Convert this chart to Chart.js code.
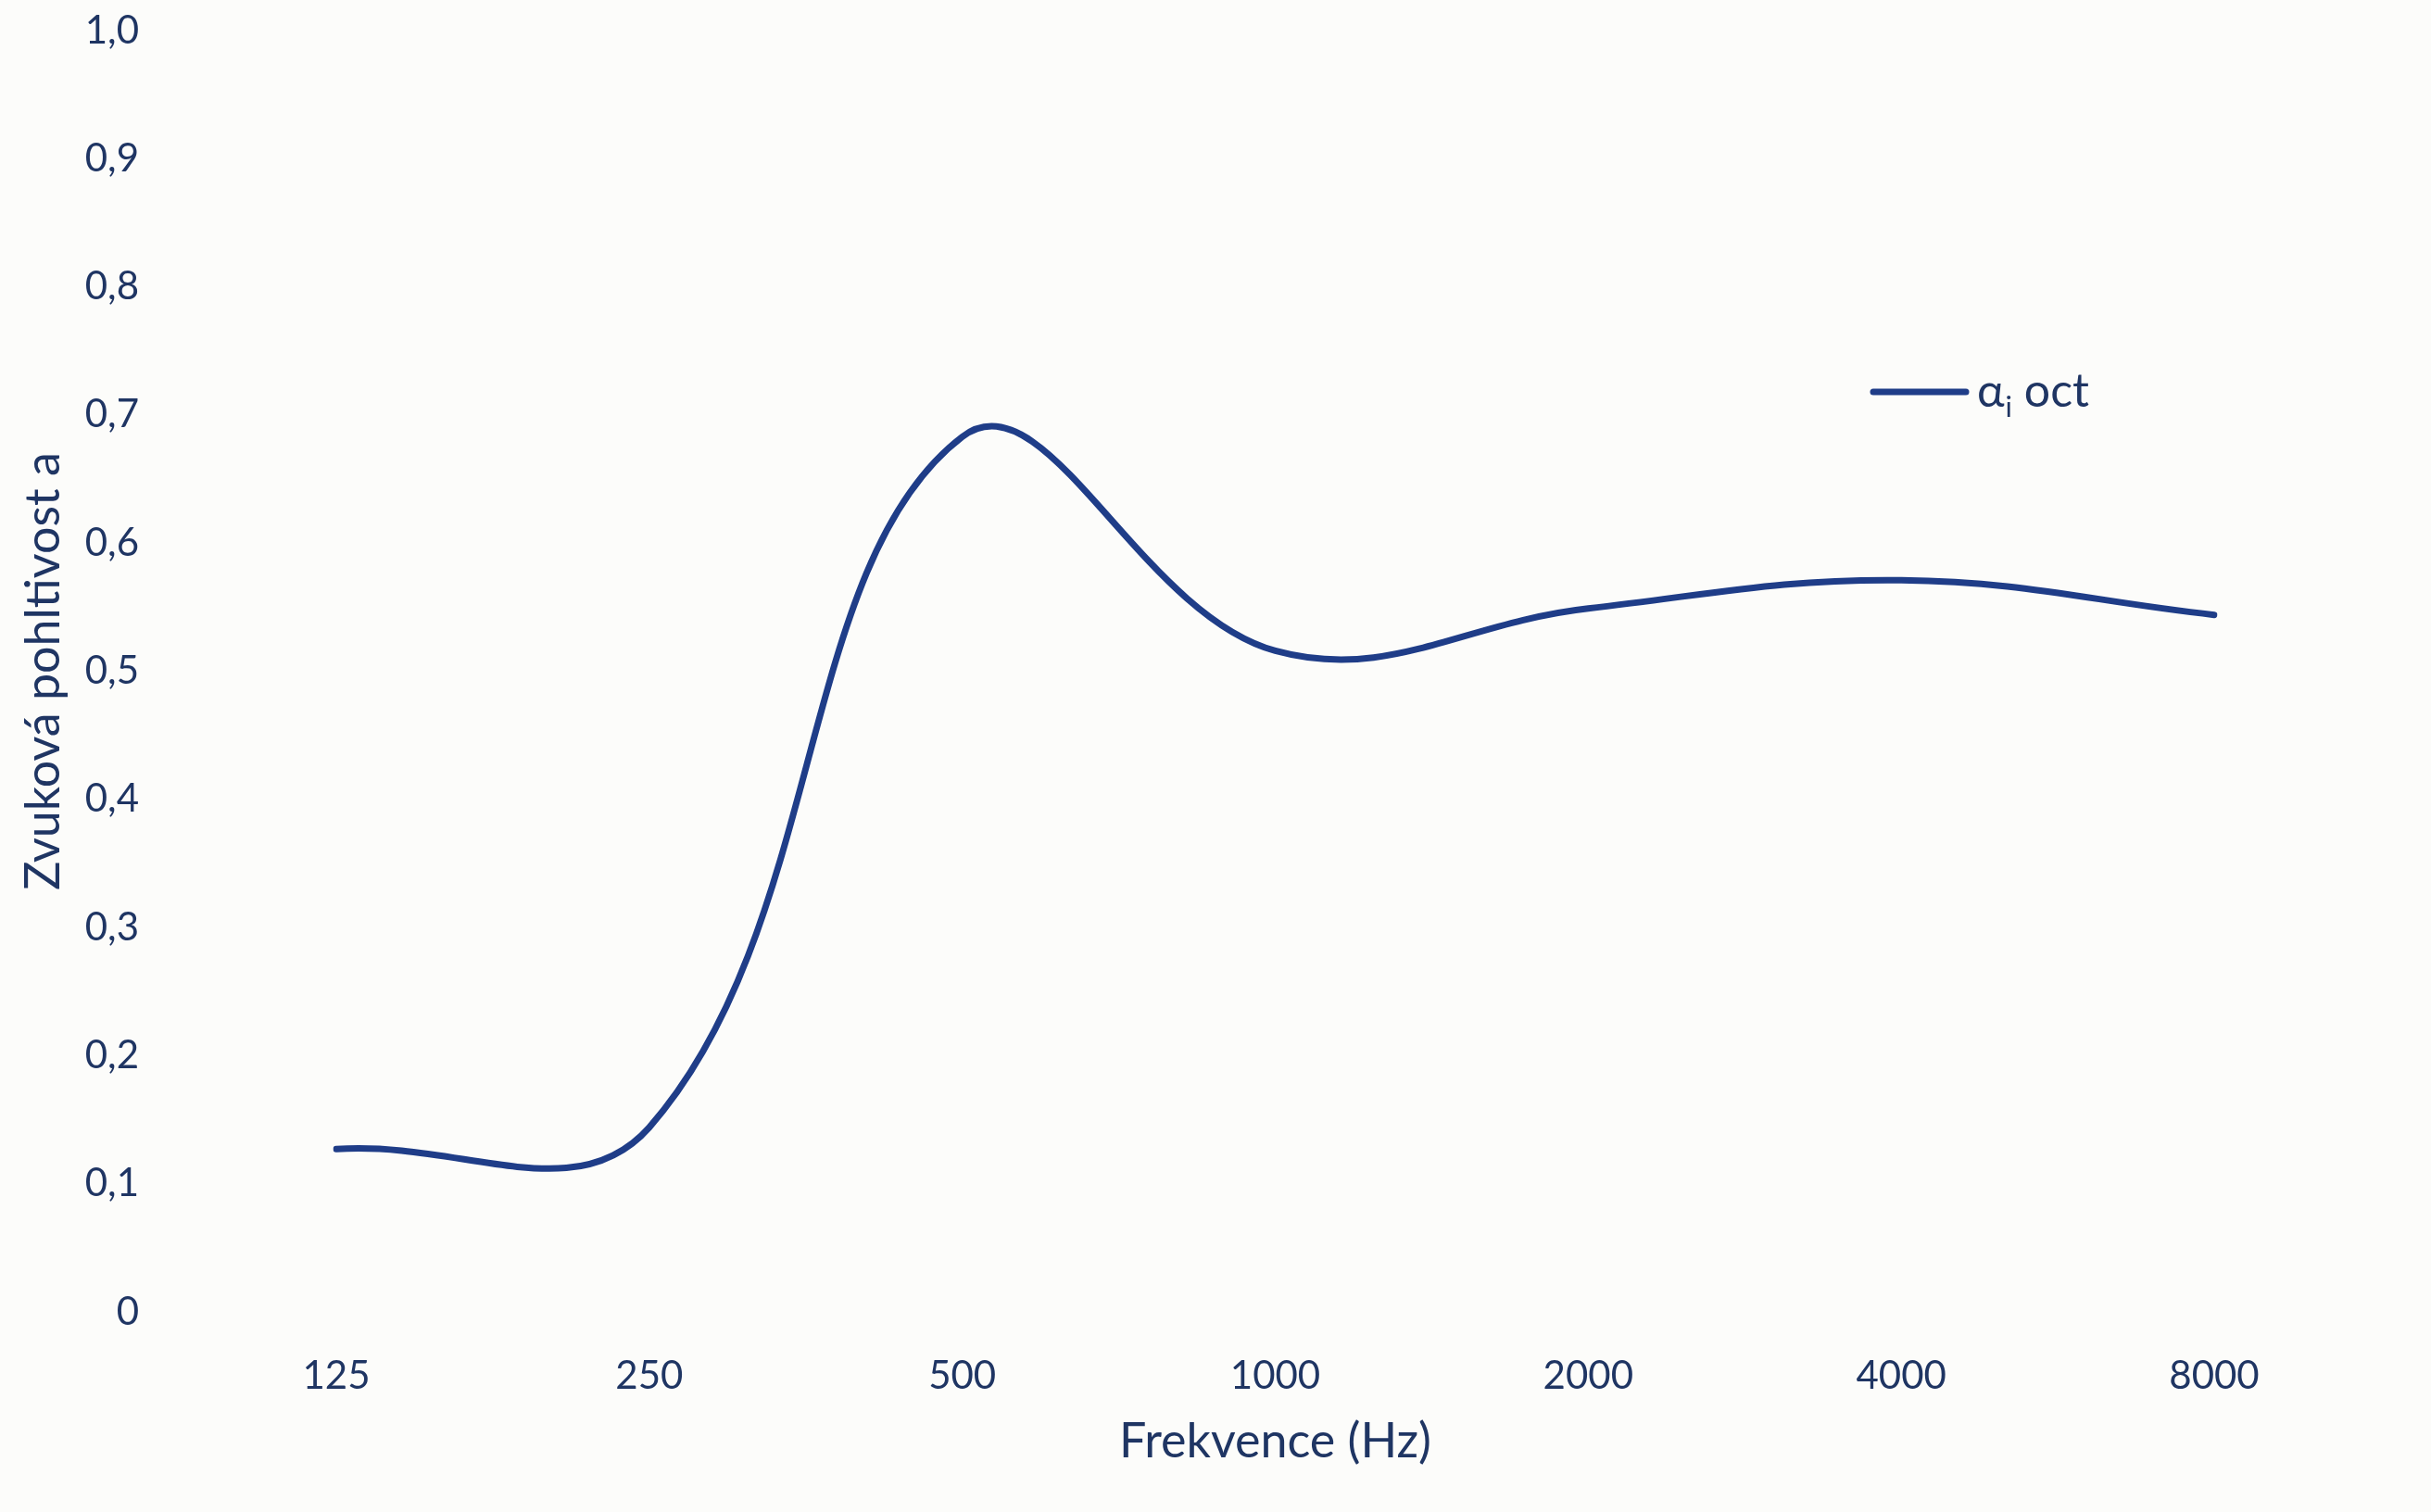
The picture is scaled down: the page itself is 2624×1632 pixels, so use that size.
<!DOCTYPE html>
<html>
<head>
<meta charset="utf-8">
<script src="https://cdn.jsdelivr.net/npm/chart.js@4/dist/chart.umd.min.js"></script>
<style>
  html, body { margin: 0; padding: 0; background: #fcfcfa; }
  #wrap { width: 2624px; height: 1632px; }
</style>
</head>
<body>
<div id="wrap"><canvas id="c" width="2624" height="1632"></canvas></div>
<script>
const frequencies = ['125', '250', '500', '1000', '2000', '4000', '8000'];
const alphaOct = [0.127, 0.144, 0.683, 0.516, 0.549, 0.571, 0.544];
const seriesName = 'α oct';
const seriesSub = 'i';
const xTitle = 'Frekvence (Hz)';
const yTitle = 'Zvuková pohltivost a';
const yMin = 0, yMax = 1.0, yStep = 0.1;

const TEXT = '#1f3563';
const LINE = '#1f3d88';
const FONT = 'Lato, "Open Sans", sans-serif';

const legendPlugin = {
  id: 'customLegend',
  afterDraw(chart) {
    const ctx = chart.ctx;
    const ca = chart.chartArea;
    const x0 = ca.right - 368, y0 = ca.top + 390;
    ctx.save();
    ctx.strokeStyle = LINE;
    ctx.lineWidth = 7;
    ctx.lineCap = 'round';
    ctx.beginPath();
    ctx.moveTo(x0, y0);
    ctx.lineTo(x0 + 100, y0);
    ctx.stroke();
    ctx.fillStyle = TEXT;
    ctx.textBaseline = 'alphabetic';
    ctx.textAlign = 'left';
    const base = y0 + 16;
    let x = x0 + 112;
    ctx.font = '50px ' + FONT;
    ctx.fillText('α', x, base);
    x += ctx.measureText('α').width + 1;
    ctx.font = '31px ' + FONT;
    ctx.fillText(seriesSub, x, base + 11);
    x += ctx.measureText(seriesSub).width;
    ctx.font = '50px ' + FONT;
    ctx.fillText(seriesName.slice(1), x, base);
    ctx.restore();
  }
};

new Chart(document.getElementById('c'), {
  type: 'line',
  data: {
    labels: frequencies,
    datasets: [{
      label: seriesName,
      data: alphaOct,
      borderColor: LINE,
      borderWidth: 7,
      borderCapStyle: 'round',
      pointRadius: 0,
      tension: 0.4,
      fill: false
    }]
  },
  options: {
    responsive: false,
    animation: false,
    layout: { padding: { top: 33, right: 234, bottom: 0, left: 0 } },
    plugins: { legend: { display: false }, tooltip: { enabled: false } },
    scales: {
      x: {
        offset: false,
        grid: { display: false, drawTicks: false, tickLength: 0 },
        border: { display: false },
        ticks: { color: TEXT, font: { family: FONT, size: 42 }, padding: 44, maxRotation: 0 },
        title: { display: true, text: xTitle, color: TEXT, font: { family: FONT, size: 52 }, padding: { top: 0, bottom: 45 } },
        afterFit(s) { s.height = 216; }
      },
      y: {
        min: yMin, max: yMax,
        grid: { display: false, drawTicks: false, tickLength: 0 },
        border: { display: false },
        ticks: {
          stepSize: yStep, color: TEXT, font: { family: FONT, size: 42 }, padding: 213,
          callback: v => v === 0 ? '0' : v.toFixed(1).replace('.', ',')
        },
        title: { display: true, text: yTitle, color: TEXT, font: { family: FONT, size: 52 }, padding: { top: 16, bottom: 0 } },
        afterFit(s) { s.width = 363; s.paddingTop = 25; s.paddingBottom = 25; }
      }
    }
  },
  plugins: [legendPlugin]
});
</script>
</body>
</html>
